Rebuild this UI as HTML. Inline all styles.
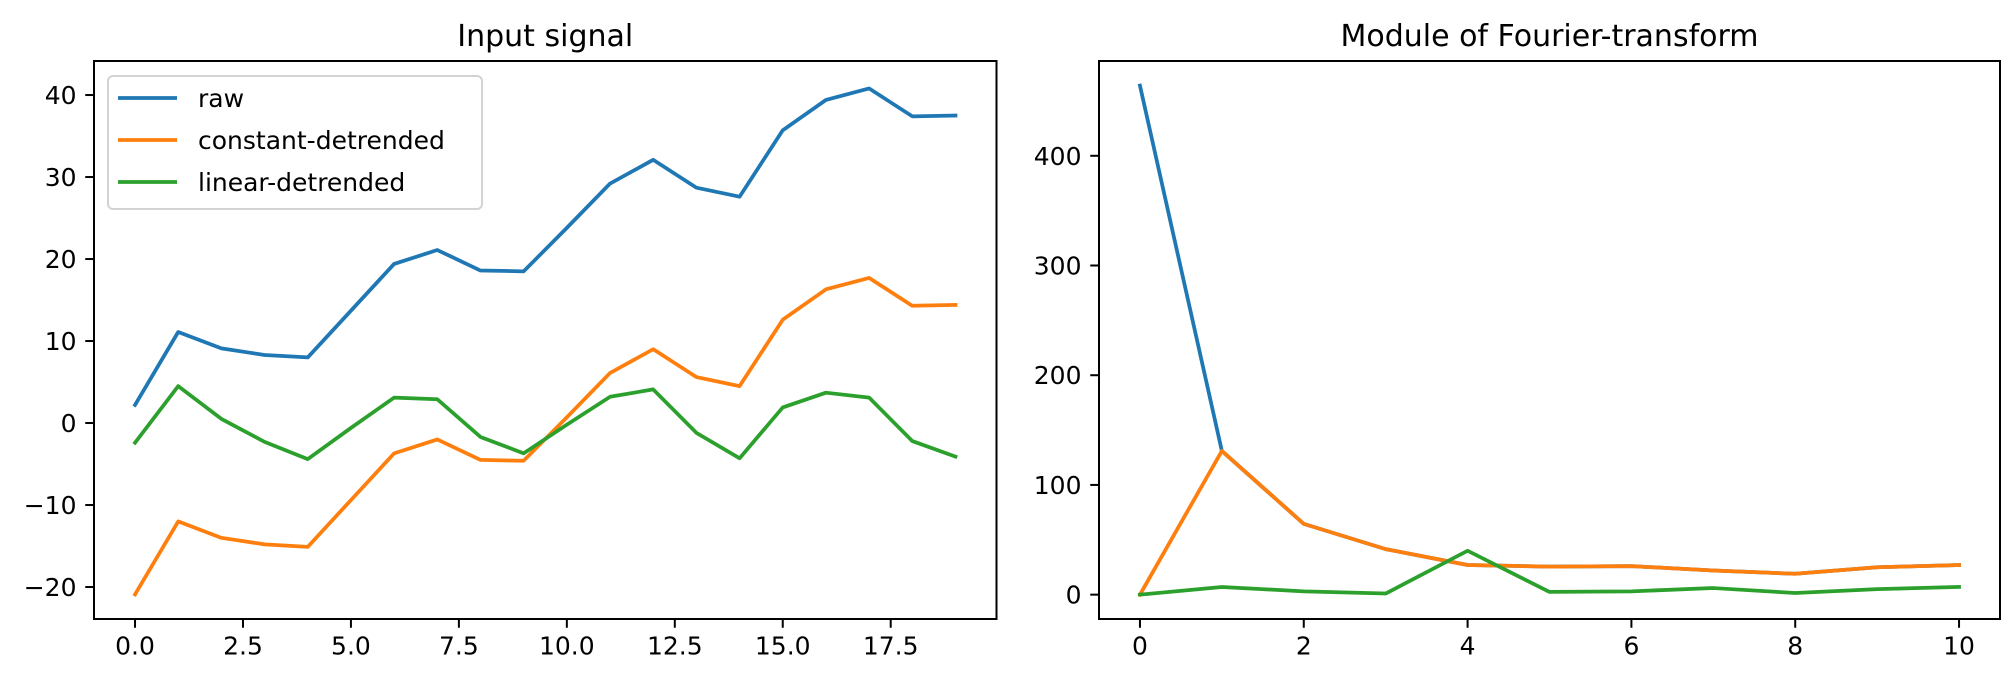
<!DOCTYPE html>
<html><head><meta charset="utf-8"><style>
html,body{margin:0;padding:0;background:#fff;}
svg{display:block;font-family:"DejaVu Sans","Liberation Sans",sans-serif;}
</style></head><body>
<svg id="fig" width="2016" height="682" viewBox="0 0 2016 682" xmlns="http://www.w3.org/2000/svg"></svg>
<script>
// ---- data ----
const leftX = [0,1,2,3,4,5,6,7,8,9,10,11,12,13,14,15,16,17,18,19];
const rawSeries = [2.2,11.1,9.1,8.3,8.0,13.7,19.4,21.1,18.6,18.5,23.8,29.2,32.1,28.7,27.6,35.7,39.4,40.8,37.4,37.5];
const constSeries = [-20.9,-12.0,-14.0,-14.8,-15.1,-9.4,-3.7,-2.0,-4.5,-4.6,0.7,6.1,9.0,5.6,4.5,12.6,16.3,17.7,14.3,14.4];
const linearSeries = [-2.4,4.5,0.5,-2.3,-4.4,-0.6,3.1,2.9,-1.7,-3.7,-0.2,3.2,4.1,-1.2,-4.3,1.9,3.7,3.1,-2.2,-4.1];
const leftXTicks = [0,2.5,5,7.5,10,12.5,15,17.5];
const leftXTickLabels = ["0.0","2.5","5.0","7.5","10.0","12.5","15.0","17.5"];
const leftYTicks = [-20,-10,0,10,20,30,40];
const leftYTickLabels = ["\u221220","\u221210","0","10","20","30","40"];

const rightX = [0,1,2,3,4,5,6,7,8,9,10];
const rawFFT = [464,131,64.5,41.5,27,25.5,26,22,19,25,27];
const constFFT = [0,131,64.5,41.5,27,25.5,26,22,19,25,27];
const linearFFT = [0,7,3,1,40,2.5,3,6,1.5,5,7];
const rightXTicks = [0,2,4,6,8,10];
const rightXTickLabels = ["0","2","4","6","8","10"];
const rightYTicks = [0,100,200,300,400];
const rightYTickLabels = ["0","100","200","300","400"];

const C = {raw:"#1f77b4", cst:"#ff7f0e", lin:"#2ca02c"};
const NS = "http://www.w3.org/2000/svg";
const svg = document.getElementById('fig');
function mk(tag, attrs, parent){
  const e = document.createElementNS(NS, tag);
  for (const k in attrs) e.setAttribute(k, attrs[k]);
  (parent||svg).appendChild(e);
  return e;
}
function axes(cfg){
  const g = mk('g', {});
  
  
  const sx = v => cfg.x0 + (v - cfg.xmin) / (cfg.xmax - cfg.xmin) * (cfg.x1 - cfg.x0);
  const sy = v => cfg.y1 - (v - cfg.ymin) / (cfg.ymax - cfg.ymin) * (cfg.y1 - cfg.y0);
  cfg.series.forEach(s => {
    const p = mk('polyline', {points: s.vals.map((v,i)=>sx(cfg.xs[i]).toFixed(2)+','+sy(v).toFixed(2)).join(' '),
      fill:'none', stroke:s.color, 'stroke-width':3.75, 'stroke-linejoin':'round', 'stroke-linecap':'square'}, g);
    
    
  });
  const fr = mk('rect', {x:cfg.x0, y:cfg.y0, width:cfg.x1-cfg.x0, height:cfg.y1-cfg.y0, fill:'none', stroke:'#000', 'stroke-width':2}, g);
  
  
  cfg.xt.forEach((t,i) => {
    const x = sx(t);
    mk('line', {x1:x, x2:x, y1:cfg.y1, y2:cfg.y1+8.75, stroke:'#000', 'stroke-width':2}, g);
    const tx = mk('text', {x:x, y:cfg.y1+35.5, 'font-size':25, 'text-anchor':'middle', fill:'#000'}, g);
    tx.textContent = cfg.xtl[i];
    
    
  });
  cfg.yt.forEach((t,i) => {
    const y = sy(t);
    mk('line', {x1:cfg.x0-8.75, x2:cfg.x0, y1:y, y2:y, stroke:'#000', 'stroke-width':2}, g);
    const tx = mk('text', {x:cfg.x0-17.5, y:y+9, 'font-size':25, 'text-anchor':'end', fill:'#000'}, g);
    tx.textContent = cfg.ytl[i];
    
    
  });
  const tt = mk('text', {x:(cfg.x0+cfg.x1)/2, y:cfg.y0-15, 'font-size':30, 'text-anchor':'middle', fill:'#000'}, g);
  tt.textContent = cfg.title;
  
  
}
axes({name:'input-signal-chart', x0:94, x1:996.5, y0:61, y1:619, xmin:-0.95, xmax:19.95, ymin:-23.9, ymax:44.15,
  xs:leftX, xt:leftXTicks, xtl:leftXTickLabels, yt:leftYTicks, ytl:leftYTickLabels, title:'Input signal',
  series:[{name:'raw-line',vals:rawSeries,color:C.raw},{name:'constant-detrended-line',vals:constSeries,color:C.cst},{name:'linear-detrended-line',vals:linearSeries,color:C.lin}]});
axes({name:'fourier-chart', x0:1099, x1:2000, y0:61, y1:619, xmin:-0.5, xmax:10.5, ymin:-22.2, ymax:486.4,
  xs:rightX, xt:rightXTicks, xtl:rightXTickLabels, yt:rightYTicks, ytl:rightYTickLabels, title:'Module of Fourier-transform',
  series:[{name:'raw-fft-line',vals:rawFFT,color:C.raw},{name:'constant-detrended-fft-line',vals:constFFT,color:C.cst},{name:'linear-detrended-fft-line',vals:linearFFT,color:C.lin}]});

const lg = mk('g', {});


mk('rect', {x:108, y:76, width:374, height:133, rx:5, fill:'#fff', 'fill-opacity':0.8, stroke:'#d3d3d3', 'stroke-width':2}, lg);
const entries = [['raw',C.raw,98],['constant-detrended',C.cst,140],['linear-detrended',C.lin,182]];
entries.forEach(e => {
  const eg = mk('g', {}, lg);
  
  
  mk('line', {x1:118, x2:177, y1:e[2], y2:e[2], stroke:e[1], 'stroke-width':3.75}, eg);
  const t = mk('text', {x:198, y:e[2]+9, 'font-size':25, fill:'#000'}, eg);
  t.textContent = e[0];
});
</script>
</body></html>
